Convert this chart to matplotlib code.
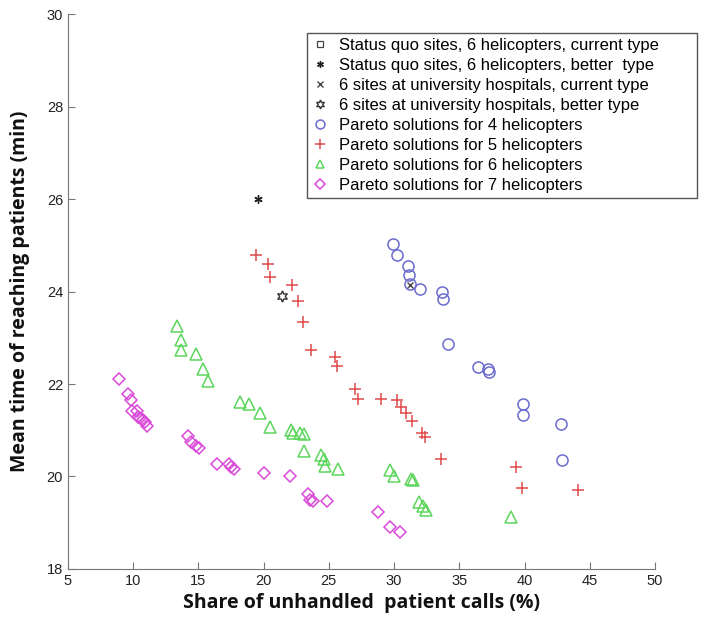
import matplotlib
matplotlib.use('Agg')
import matplotlib.pyplot as plt

plt.rcParams['font.family'] = ['Liberation Sans', 'DejaVu Sans']

# single scenario points (status quo square is hidden behind the legend, left empty)
sq_current_x, sq_current_y = [], []
sq_better_x, sq_better_y = [19.6], [26.0]
uni_current_x, uni_current_y = [31.2], [24.15]
uni_better_x, uni_better_y = [21.4], [23.9]

# Pareto fronts
h4_x = [29.9, 30.2, 31.05, 31.15, 31.2, 32.0, 33.65, 33.75, 34.15, 36.4, 37.2, 37.3,
        39.85, 39.9, 42.8, 42.9]
h4_y = [25.02, 24.79, 24.55, 24.36, 24.16, 24.05, 24.0, 23.84, 22.87, 22.36, 22.33, 22.25,
        21.57, 21.34, 21.14, 20.36]

h5_x = [19.4, 20.3, 20.45, 22.2, 22.6, 23.0, 23.6, 25.5, 25.6, 27.0, 27.25, 29.0,
        30.25, 30.5, 30.9, 31.35, 32.15, 32.4, 33.6, 39.35, 39.8, 44.1]
h5_y = [24.8, 24.6, 24.31, 24.13, 23.8, 23.34, 22.74, 22.59, 22.39, 21.89, 21.68, 21.68,
        21.66, 21.5, 21.38, 21.21, 20.95, 20.85, 20.38, 20.21, 19.76, 19.71]

h6_x = [13.35, 13.65, 13.7, 14.85, 15.35, 15.75, 18.2, 18.85, 19.75, 20.45, 22.1, 22.25,
        22.75, 23.1, 23.1, 24.4, 24.6, 24.7, 25.7, 29.7, 30.0, 31.3, 31.45, 31.9, 32.2,
        32.45, 38.95]
h6_y = [23.26, 22.95, 22.74, 22.64, 22.32, 22.07, 21.6, 21.56, 21.37, 21.06, 21.01, 20.93,
        20.93, 20.92, 20.56, 20.46, 20.38, 20.23, 20.16, 20.14, 20.0, 19.95, 19.93, 19.44,
        19.36, 19.27, 19.12]

h7_x = [8.9, 9.6, 9.85, 9.9, 10.3, 10.4, 10.5, 10.75, 10.9, 11.05, 14.2, 14.4, 14.85,
        15.05, 16.45, 17.35, 17.5, 17.7, 20.0, 22.0, 23.4, 23.55, 23.8, 24.85, 28.8,
        29.7, 30.45]
h7_y = [22.1, 21.78, 21.65, 21.42, 21.42, 21.29, 21.26, 21.22, 21.18, 21.1, 20.88, 20.75,
        20.67, 20.61, 20.27, 20.27, 20.21, 20.16, 20.08, 20.0, 19.62, 19.49, 19.46, 19.46,
        19.23, 18.9, 18.8]

labels = ['Status quo sites, 6 helicopters, current type',
          'Status quo sites, 6 helicopters, better  type',
          '6 sites at university hospitals, current type',
          '6 sites at university hospitals, better type',
          'Pareto solutions for 4 helicopters',
          'Pareto solutions for 5 helicopters',
          'Pareto solutions for 6 helicopters',
          'Pareto solutions for 7 helicopters']

fig = plt.figure(figsize=(7.17, 6.17), dpi=100)
ax = fig.add_axes([0.0948, 0.0778, 0.8187, 0.8995])

ax.plot(sq_current_x, sq_current_y, 's', mfc='none', mec='#444444', ms=5.5, mew=0.9, label=labels[0])
ax.plot(sq_better_x, sq_better_y, marker=(6, 2, 0), ls='none', color='#222222', ms=6, mew=1,
        label=labels[1])
ax.plot(uni_current_x, uni_current_y, 'x', color='#444444', ms=5, mew=1, label=labels[2])
ax.plot(uni_better_x, uni_better_y, marker=(6, 1, 0), ls='none', mfc='none', mec='#333333',
        ms=8, mew=1, label=labels[3])
ax.plot(h4_x, h4_y, 'o', mfc='none', mec='#6b6bd0', ms=8, mew=1.1, label=labels[4])
ax.plot(h5_x, h5_y, '+', color='#e04a4a', ms=9, mew=1.1, label=labels[5])
ax.plot(h6_x, h6_y, '^', mfc='none', mec='#5cd65c', ms=8, mew=1.1, label=labels[6])
ax.plot(h7_x, h7_y, 'D', mfc='none', mec='#d94ad9', ms=6.5, mew=1.1, label=labels[7])

ax.set_xlim(5, 50)
ax.set_ylim(18, 30)
ax.set_xticks(range(5, 51, 5))
ax.set_yticks(range(18, 31, 2))
ax.tick_params(direction='in', length=5, color='#777777', labelsize=10.5, labelcolor='#222222')
for s in ['top', 'right']:
    ax.spines[s].set_visible(False)
for s in ['left', 'bottom']:
    ax.spines[s].set_color('#777777')

ax.set_xlabel('Share of unhandled  patient calls (%)', fontsize=14, fontweight='bold',
              family=['Open Sans', 'DejaVu Sans'], color='#111111', labelpad=4)
ax.set_ylabel('Mean time of reaching patients (min)', fontsize=14, fontweight='bold',
              family=['Open Sans', 'DejaVu Sans'], color='#111111', labelpad=12)

leg = ax.legend(loc='upper left', bbox_to_anchor=(0.407, 0.672, 0.665, 0.294), mode='expand',
                fontsize=12, frameon=True, fancybox=False, edgecolor='#555555', framealpha=1,
                handlelength=1.0, handletextpad=0.6, borderpad=0.3, labelspacing=0.3,
                borderaxespad=0, markerscale=0.8)
leg.get_frame().set_linewidth(1.0)

fig.savefig('out.png', dpi=100)
